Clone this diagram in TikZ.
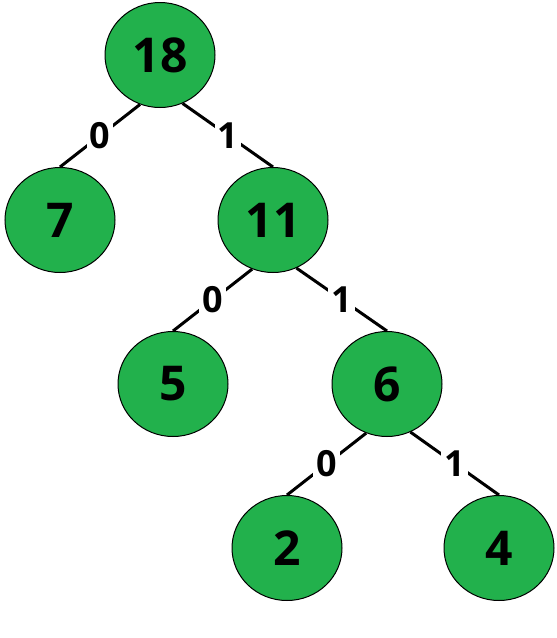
\documentclass[tikz,border=0pt]{standalone}
\usepackage{fontspec}
\newfontfamily\treefont{Open Sans}
\usetikzlibrary{shapes.geometric}
\definecolor{leafgreen}{RGB}{34,177,76}
\tikzset{
  treenode/.style={ellipse, draw=black, line width=1pt, fill=leafgreen,
    minimum width=110pt, minimum height=105pt, inner sep=0pt,
    font=\treefont\bfseries\fontsize{48}{48}\selectfont},
  branch/.style={line width=3pt},
  bitlabel/.style={midway, fill=white, inner sep=3pt,
    font=\treefont\bfseries\fontsize{36}{36}\selectfont}
}
\begin{document}
\begin{tikzpicture}[x=1pt, y=-1pt]
        \useasboundingbox (0,0) rectangle (557,638);

        % Root and first level
        \node[treenode] (n18) at (160,55) {18};
        \node[treenode] (n7) at (60,220) {7};
        \node[treenode] (n11) at (273,220) {11};

        % Second level
        \node[treenode] (n5) at (173,384) {5};
        \node[treenode] (n6) at (387,384) {6};

        % Third level
        \node[treenode] (n2) at (287,548) {2};
        \node[treenode] (n4) at (499,548) {4};

        % Branches with bit labels
        \draw[branch] (n18.-112) -- (n7.north) node[bitlabel] {0};
        \draw[branch] (n18.-65) -- (n11.north) node[bitlabel] {1};
        \draw[branch] (n11.-113) -- (n5.north) node[bitlabel] {0};
        \draw[branch] (n11.-64) -- (n6.north) node[bitlabel] {1};
        \draw[branch] (n6.-113) -- (n2.north) node[bitlabel] {0};
        \draw[branch] (n6.-64) -- (n4.north) node[bitlabel] {1};
    \end{tikzpicture}
\end{document}
